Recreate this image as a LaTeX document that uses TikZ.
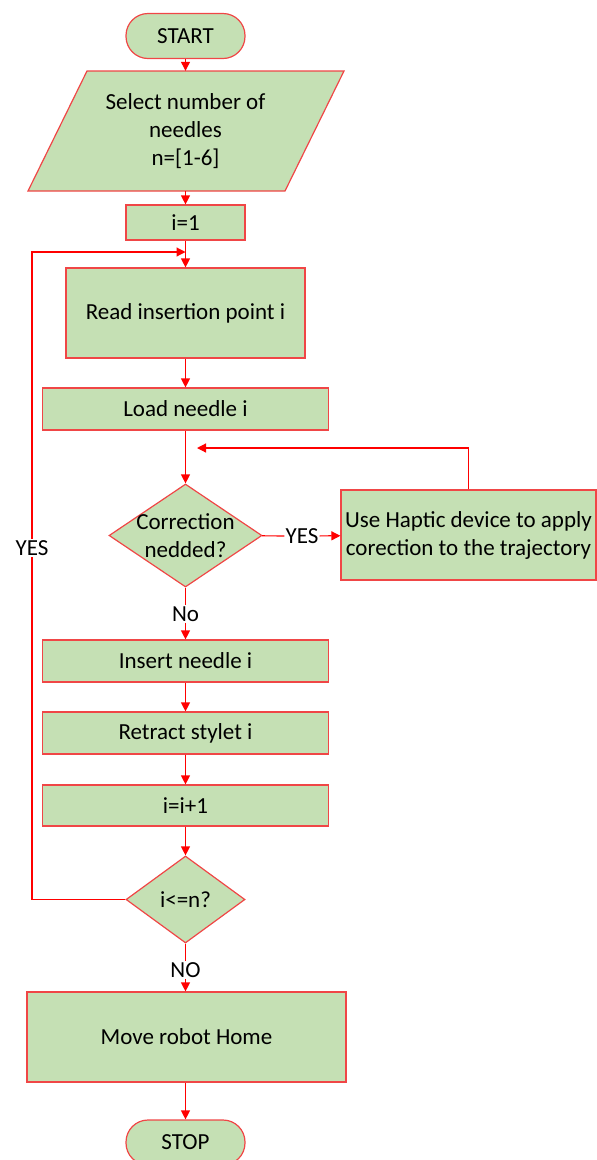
\documentclass[tikz,border=0pt]{standalone}
\usepackage{fontspec}
\setmainfont{Carlito}
\usetikzlibrary{shapes.geometric,arrows.meta}
\definecolor{boxfill}{RGB}{197,224,180}
\definecolor{boxline}{RGB}{240,70,70}
\definecolor{arrcol}{RGB}{255,0,0}
\begin{document}
\begin{tikzpicture}[x=1pt,y=-1pt,
  font=\fontsize{23}{28}\selectfont,
  base/.style={draw=boxline,fill=boxfill,line width=1.2pt,inner sep=0pt,align=center},
  term/.style={base,rounded corners=22pt,minimum width=119pt,minimum height=45pt},
  proc/.style={base,rectangle},
  lbl/.style={inner sep=1pt,fill=white},
  conn/.style={draw=arrcol,line width=1.2pt},
  arr/.style={conn,-{Triangle[length=9pt,width=9pt]}}]
\useasboundingbox (0,0) rectangle (597,1160);
\node[term] (start) at (185.5,36) {START};
\fill[boxfill] (87,71) -- (344,71) -- (285,191) -- (28,191) -- cycle;
\draw[boxline,line width=1.2pt] (87,71) -- (344,71) -- (285,191) -- (28,191) -- cycle;
\node[inner sep=0pt,minimum width=200pt,minimum height=120pt,align=center] (sel) at (185.5,131) {Select number of\\needles\\n=[1-6]};
\node[proc,minimum width=119pt,minimum height=35pt] (i1) at (185.5,222.5) {i=1};
\node[proc,minimum width=239pt,minimum height=90pt] (read) at (185.5,313) {Read insertion point i};
\node[proc,minimum width=286pt,minimum height=42pt] (load) at (185.5,409) {Load needle i};
\node[base,diamond,minimum width=153pt,minimum height=103pt,aspect=1.49,inner sep=-7pt] (corr) at (185.5,535.5) {Correction\\nedded?};
\node[proc,minimum width=255pt,minimum height=90pt] (hap) at (468.5,535) {Use Haptic device to apply\\corection to the trajectory};
\node[proc,minimum width=286pt,minimum height=42pt] (ins) at (185.5,661) {Insert needle i};
\node[proc,minimum width=286pt,minimum height=42pt] (ret) at (185.5,733) {Retract stylet i};
\node[proc,minimum width=286pt,minimum height=41pt] (inc) at (185.5,805.5) {i=i+1};
\node[base,diamond,minimum width=119pt,minimum height=87pt,aspect=1.37] (cmp) at (185.5,899.5) {i<=n?};
\node[proc,minimum width=319pt,minimum height=90pt] (home) at (186.5,1037) {Move robot Home};
\node[term] (stop) at (185.5,1142.5) {STOP};
% labels
\node[lbl] (yes1) at (302,536) {YES};
\node[lbl] (no1) at (185.5,614) {No};
\node[lbl] (no2) at (185.5,970) {NO};
\coordinate (loopL) at (32,252);
\coordinate (j1) at (185.5,252);
\coordinate (j2) at (197,448);
% connectors
\draw[arr] (start) -- (start.south |- sel.north);
\draw[arr] (sel.south) -- (i1);
\draw[arr] (i1) -- (read);
\draw[arr] (read) -- (load);
\draw[arr] (load) -- (corr);
\draw[conn] (corr) -- (yes1);
\draw[arr] (yes1) -- (hap);
\draw[arr] (hap.north) |- (j2);
\draw[conn] (corr) -- (no1);
\draw[arr] (no1) -- (ins);
\draw[arr] (ins) -- (ret);
\draw[arr] (ret) -- (inc);
\draw[arr] (inc) -- (cmp);
\draw[arr] (cmp.west) -| (loopL) -- (j1);
\node[lbl] (yes2) at (32,548) {YES};
\draw[conn] (cmp) -- (no2);
\draw[arr] (no2) -- (home.north -| no2);
\draw[arr] (home.south -| stop) -- (stop);
\end{tikzpicture}
\end{document}
